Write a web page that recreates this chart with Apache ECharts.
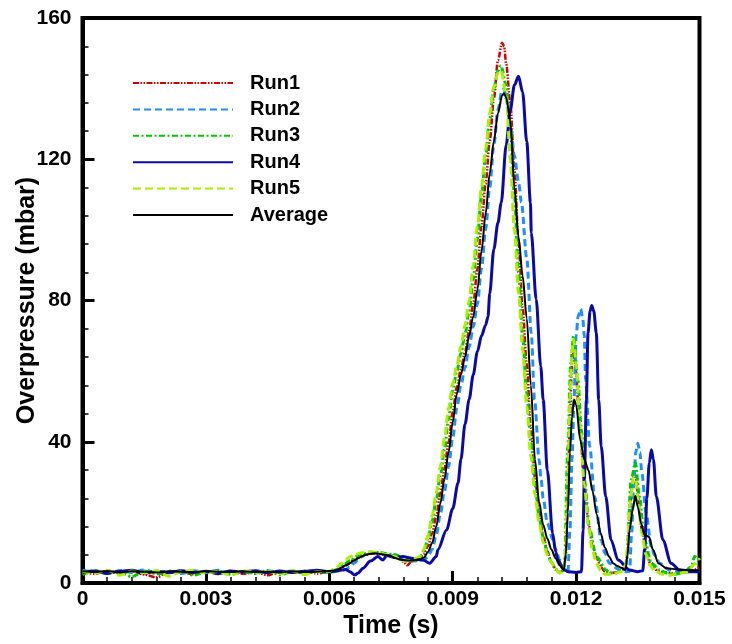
<!DOCTYPE html>
<html>
<head>
<meta charset="utf-8">
<script src="https://cdn.jsdelivr.net/npm/echarts@6/dist/echarts.min.js"></script>
<style>
html,body{margin:0;padding:0;background:#fff;}
#chart{width:732px;height:644px;}
</style>
</head>
<body>
<div id="chart"></div>
<script>
const seriesNames = ['Run1', 'Run2', 'Run3', 'Run4', 'Run5', 'Average'];
const xTicks = [0, 0.003, 0.006, 0.009, 0.012, 0.015];
const yTicks = [0, 40, 80, 120, 160];

const run1 = [[0,3.2],[0.0003,2.6],[0.0006,3.4],[0.0009,2.9],[0.0012,3.3],[0.0015,2.4],[0.0018,1.6],[0.0021,3.2],[0.0024,3.0],[0.0027,2.5],[0.003,3.3],[0.0033,2.8],[0.0036,3.4],[0.0039,2.6],[0.0042,3.1],[0.0045,2.2],[0.0048,3.3],[0.0051,2.9],[0.0054,3.4],[0.0057,2.7],[0.006,3.2],
[0.0062,3.6],[0.0064,5.0],[0.0066,6.6],[0.0068,7.8],[0.007,8.3],[0.0072,8.2],[0.0074,7.8],[0.0076,7.3],[0.0077,6.8],[0.0078,6.0],[0.0079,5.0],[0.008,6.2],[0.0081,6.6],[0.0082,7.2],
[0.0083,8.2],[0.0084,10.5],[0.0085,14],[0.0086,19],[0.0087,25.5],[0.0088,32.5],[0.0089,40],[0.009,48.5],[0.0091,55.5],[0.0092,60.5],[0.0093,65.5],[0.0094,71.5],[0.0095,79],[0.0096,89],[0.0097,101],[0.0098,113],[0.0099,125],[0.01,137],[0.0101,148],[0.0102,153],[0.01025,152],[0.0103,147],[0.0104,136],[0.0105,117],[0.0106,97],[0.0107,78],[0.0108,62],[0.0109,44],[0.011,30],[0.0111,20],[0.0112,13.5],[0.0113,9],[0.0114,6],[0.0115,4],[0.0116,3],[0.0117,3.6],[0.01175,8],[0.0118,25],[0.01185,47],[0.0119,62],[0.01195,66],[0.012,60],[0.01205,51],[0.0121,42],[0.0122,28],[0.0123,17],[0.0124,10.5],[0.0125,7],[0.0126,4.5],[0.0127,3.2],[0.0128,2.8],[0.013,3.0],[0.0131,3.4],[0.0132,4.5],[0.01325,8],[0.0133,18],[0.01335,27],[0.0134,31],[0.01345,30],[0.0135,25],[0.0136,15],[0.0137,9],[0.0138,5.5],[0.0139,4],[0.014,3.3],[0.0142,3.0],[0.0144,2.6],[0.0146,3.0],[0.0148,3.4],[0.015,4.5]];

const run2 = [[0,3.6],[0.0003,3.1],[0.0006,2.8],[0.0009,3.5],[0.0012,3.0],[0.0015,3.7],[0.0018,2.9],[0.0021,3.4],[0.0024,2.7],[0.0027,3.5],[0.003,3.0],[0.0033,3.6],[0.0036,2.9],[0.0039,3.3],[0.0042,2.8],[0.0045,3.5],[0.0048,3.0],[0.0051,3.4],[0.0054,2.9],[0.0057,3.3],[0.006,3.0],
[0.0062,3.4],[0.0064,3.8],[0.0065,4.5],[0.0066,5.6],[0.0067,6.5],[0.0068,7.5],[0.0069,8.4],[0.007,8.8],[0.0071,8.5],[0.0072,8.8],[0.0073,8.2],[0.0074,8.0],[0.0075,7.6],[0.0076,8.0],[0.0077,7.2],[0.0078,6.4],[0.0079,6.0],[0.008,6.2],[0.0081,6.3],[0.0082,6.5],
[0.0083,6.5],[0.0084,7.5],[0.0085,9.5],[0.0086,13.5],[0.0087,19.5],[0.0088,26],[0.0089,33],[0.009,41],[0.0091,49.5],[0.0092,56],[0.0093,61],[0.0094,67],[0.0095,72.5],[0.0096,79],[0.0097,89],[0.0098,100],[0.0099,112],[0.01,124],[0.0101,134],[0.0102,139.5],[0.01025,140],[0.0103,137],[0.0104,130],[0.0105,121],[0.0106,113.5],[0.01067,107.8],[0.0108,92],[0.01091,70.8],[0.01099,51.9],[0.0111,35],[0.01115,29.2],[0.0112,24],[0.0113,17],[0.01144,12.2],[0.0115,9.5],[0.0116,6.5],[0.01172,3.5],[0.0118,3.0],[0.01185,15],[0.0119,35],[0.01195,52],[0.012,70],[0.01205,75.5],[0.01211,77.6],[0.01216,75],[0.0122,70],[0.01223,57.6],[0.01233,38.7],[0.01245,24.5],[0.01261,12.2],[0.0127,8.5],[0.01281,5.6],[0.01306,3.7],[0.0132,3.2],[0.0133,3.3],[0.01335,14],[0.0134,28],[0.01345,37],[0.0135,39.6],[0.01355,37],[0.0136,31],[0.0137,19.8],[0.01383,10.3],[0.0139,8],[0.01403,5.6],[0.01427,3.7],[0.0145,3.2],[0.0148,3.5],[0.015,3.5]];

const run3 = [[0,2.4],[0.0003,3.5],[0.0006,2.9],[0.0009,3.2],[0.0012,1.8],[0.0015,3.4],[0.0018,2.6],[0.0021,3.1],[0.0024,3.5],[0.0027,2.2],[0.003,3.1],[0.0033,3.4],[0.0036,2.5],[0.0039,3.2],[0.0042,2.7],[0.0045,3.5],[0.0048,2.3],[0.0051,3.3],[0.0054,2.8],[0.0057,3.4],[0.006,3.0],
[0.0062,3.8],[0.00634,5.1],[0.0065,6.3],[0.0067,7.7],[0.00698,8.6],[0.0072,8.7],[0.0074,8.3],[0.00763,7.9],[0.0078,7.0],[0.00796,6.5],[0.00812,6.3],
[0.0082,7.2],[0.0083,9],[0.0084,12.5],[0.0085,17.5],[0.0086,23.5],[0.0087,30.5],[0.0088,38],[0.0089,46.5],[0.009,54.5],[0.0091,60],[0.0092,65],[0.0093,70.5],[0.0094,77],[0.0095,86],[0.0096,97.5],[0.0097,109.5],[0.0098,121],[0.0099,131.5],[0.01,140],[0.0101,145],[0.01017,146.5],[0.0103,141],[0.0104,128],[0.0105,110],[0.0106,88],[0.0107,70],[0.0108,54],[0.0109,40],[0.011,28],[0.0111,19],[0.0112,13],[0.0113,8.5],[0.0114,5.8],[0.0115,3.8],[0.0116,2.9],[0.01168,3.5],[0.01172,5.6],[0.0118,38.7],[0.01187,62.3],[0.01194,69.9],[0.01204,57.6],[0.01213,43.4],[0.0122,29.2],[0.01233,15],[0.01249,7.5],[0.01273,3.7],[0.01281,2.8],[0.013,3.0],[0.01315,3.8],[0.01322,5.6],[0.01334,29.2],[0.01344,34.1],[0.01354,24.5],[0.01366,12.2],[0.01383,5.6],[0.01403,3.7],[0.0142,2.8],[0.0144,2.4],[0.0146,3.0],[0.0148,4.5],[0.01488,7.5],[0.015,6.5]];

const run4 = [[0,3.0],[0.0003,3.4],[0.0006,2.7],[0.0009,3.3],[0.0012,3.6],[0.0015,2.8],[0.0018,3.3],[0.0021,2.9],[0.0024,3.5],[0.0027,3.0],[0.003,3.3],[0.0033,2.6],[0.0036,3.4],[0.0039,3.1],[0.0042,3.5],[0.0045,2.9],[0.0048,3.4],[0.0051,3.0],[0.0054,3.3],[0.0057,3.6],[0.006,3.2],
[0.0062,3.5],[0.0064,3.8],[0.0065,3.2],[0.00662,2.3],[0.0067,2.8],[0.00682,4.2],[0.007,6.2],[0.00718,7.5],[0.0073,6.5],[0.0074,7.8],[0.0076,7.2],[0.00779,7.5],[0.008,7.0],[0.00828,6.5],[0.00844,5.6],[0.0086,7.5],[0.00864,9.4],[0.00885,15],[0.009,21],[0.00913,28.3],[0.0092,35],[0.0093,45],[0.0094,52],[0.0095,59],[0.0096,65.5],[0.0097,70],[0.0098,73],[0.00986,75.5],[0.0099,82],[0.01,94.5],[0.0101,102],[0.01018,107.7],[0.0103,124],[0.0104,134],[0.0105,141],[0.0106,143.5],[0.0107,139],[0.0108,125],[0.01089,107.7],[0.01091,99.2],[0.01103,80.3],[0.01114,61.4],[0.0112,51.9],[0.0113,32],[0.01143,14],[0.0115,9],[0.01156,6.5],[0.01168,4.2],[0.0118,3.2],[0.012,3.0],[0.01213,3.2],[0.01217,15],[0.0122,29.2],[0.01225,51.9],[0.01229,70.8],[0.01234,77],[0.01238,78.6],[0.01243,77],[0.01249,70.9],[0.01255,51.9],[0.01261,38.7],[0.01272,24.5],[0.01285,12.2],[0.01302,6.5],[0.0133,3.7],[0.0135,3.2],[0.01362,3.5],[0.01367,10],[0.01372,24],[0.01378,34],[0.01383,37.7],[0.01388,35],[0.01395,24.5],[0.01411,12.2],[0.01431,5.6],[0.01451,3.7],[0.0147,3.2],[0.015,3.2]];

const run5 = [[0,3.3],[0.0003,2.8],[0.0006,3.6],[0.0009,2.2],[0.0012,3.4],[0.0015,2.9],[0.0018,3.5],[0.0021,1.9],[0.0024,3.2],[0.0027,3.6],[0.003,2.8],[0.0033,3.3],[0.0036,2.2],[0.0039,3.5],[0.0042,3.0],[0.0045,3.3],[0.0048,2.6],[0.0051,3.5],[0.0054,2.4],[0.0057,3.2],[0.006,3.3],
[0.0061,3.8],[0.0062,4.6],[0.0063,5.6],[0.0064,6.6],[0.0065,7.4],[0.0066,8.0],[0.0068,8.6],[0.007,8.8],[0.0072,8.6],[0.0074,8.0],[0.0076,7.4],[0.0077,6.8],[0.0078,6.2],[0.0079,6.2],[0.008,6.6],[0.0081,7.0],
[0.0082,7.4],[0.0083,9.5],[0.0084,13.5],[0.0085,19],[0.0086,25.5],[0.0087,33],[0.0088,41],[0.0089,49.5],[0.009,56.5],[0.0091,61.5],[0.0092,67],[0.0093,73],[0.0094,80],[0.0095,90],[0.0096,101],[0.0097,112],[0.0098,123],[0.0099,133],[0.01,140.5],[0.0101,144.5],[0.01018,145],[0.0103,138],[0.0104,120],[0.0105,100],[0.0106,82],[0.0107,66],[0.0108,50],[0.0109,36],[0.011,25],[0.0111,17],[0.0112,11.5],[0.0113,8],[0.0114,5.8],[0.0115,4],[0.0116,2.8],[0.0117,3.5],[0.01175,10],[0.0118,30],[0.01185,52],[0.0119,66],[0.01194,69],[0.012,62],[0.0121,44],[0.0122,28],[0.0123,16],[0.0124,9],[0.0125,5.5],[0.0126,3.5],[0.0127,2.5],[0.0129,2.5],[0.0131,3.2],[0.0132,5],[0.01325,10],[0.0133,22],[0.0134,30],[0.01345,29],[0.0135,24],[0.0136,14],[0.0137,8],[0.0138,5],[0.0139,3.5],[0.0141,2.5],[0.0143,2.2],[0.0145,2.8],[0.0147,3.2],[0.0149,5.5],[0.015,7]];

const average = [[0,3.3],[0.0003,3.1],[0.0006,3.4],[0.0009,3.0],[0.0012,3.3],[0.0015,3.2],[0.0018,3.0],[0.0021,3.3],[0.0024,3.2],[0.0027,3.1],[0.003,3.3],[0.0033,3.2],[0.0036,3.1],[0.0039,3.3],[0.0042,3.1],[0.0045,3.2],[0.0048,3.0],[0.0051,3.3],[0.0054,3.1],[0.0057,3.2],[0.006,3.4],
[0.0061,3.5],[0.0062,3.8],[0.0063,4.4],[0.0064,5.0],[0.0065,5.6],[0.0066,6.4],[0.0067,7.0],[0.0068,7.6],[0.0069,8.0],[0.007,8.3],[0.0071,8.4],[0.0072,8.3],[0.0073,8.1],[0.0074,7.9],[0.0075,7.6],[0.0076,7.1],[0.0077,6.7],[0.0078,6.5],[0.0079,6.4],[0.008,6.4],[0.0081,6.5],[0.0082,6.8],
[0.0083,7.2],[0.0084,8.8],[0.0085,11.3],[0.0086,16],[0.0087,22.5],[0.0088,29.5],[0.0089,37],[0.009,45.5],[0.0091,53.5],[0.0092,59],[0.0093,64],[0.0094,70],[0.0095,75.5],[0.0096,83],[0.0097,94],[0.0098,104.5],[0.0099,116],[0.01,125],[0.0101,133],[0.0102,138],[0.01025,138.7],[0.0103,137.5],[0.0104,131],[0.0105,112],[0.0106,98],[0.0107,87],[0.0108,75],[0.0109,56],[0.011,35],[0.0111,23],[0.0112,16.5],[0.0113,12.6],[0.0114,9.5],[0.0115,7],[0.0116,5],[0.0117,3.7],[0.01175,8],[0.0118,20],[0.01185,37],[0.0119,47],[0.01195,52],[0.012,50.5],[0.0121,40.6],[0.0122,34.9],[0.0123,32],[0.0124,26],[0.0125,19.5],[0.0126,14],[0.0127,10],[0.0128,7.5],[0.0129,5.6],[0.013,4.8],[0.0131,4.3],[0.0132,3.7],[0.01325,8],[0.0133,15],[0.01338,21],[0.01344,24.7],[0.0135,21.5],[0.01358,16.9],[0.01366,13.6],[0.01377,13.1],[0.01387,9.4],[0.014,5.6],[0.0142,4.2],[0.0145,3.8],[0.0147,3.7],[0.015,3.6]];

const seriesData = [run1, run2, run3, run4, run5, average];
const colors = ['#d40000', '#1e8fff', '#00c800', '#0a0aa8', '#aaee00', '#000000'];
const dashes = [[6,1.5,1.5,1.5,1.5,1.5], [7,4], [6,2.5,2,2.5], 'solid', [8,4], 'solid'];
const widths = [2.5, 3, 3, 3, 3, 2];

const FONT = '"Liberation Sans", Arial, Helvetica, sans-serif';
const chart = echarts.init(document.getElementById('chart'), null, {renderer: 'canvas'});

const series = seriesNames.map((name, i) => ({
  name: name,
  type: 'line',
  data: seriesData[i],
  symbol: 'none',
  showSymbol: false,
  smooth: 0.3,
  smoothMonotone: 'x',
  z: 2 + i,
  lineStyle: {color: colors[i], width: widths[i], type: dashes[i]},
  itemStyle: {color: colors[i]}
}));

chart.setOption({
  animation: false,
  backgroundColor: '#fff',
  grid: {left: 82.5, right: 32.5, top: 18, bottom: 61, show: true, borderColor: '#000', borderWidth: 4, backgroundColor: 'transparent'},
  legend: {
    orient: 'vertical', left: 127, top: 68,
    itemWidth: 100, itemHeight: 14, itemGap: 6.4,
    data: seriesNames,
    itemStyle: {opacity: 0},
    textStyle: {fontFamily: FONT, fontWeight: 'bold', fontSize: 20, color: '#000', padding: [0, 0, 0, 12]}
  },
  xAxis: {
    type: 'value', min: xTicks[0], max: xTicks[xTicks.length - 1], interval: 0.003,
    name: 'Time (s)', nameLocation: 'middle', nameGap: 31, nameMoveOverlap: false,
    nameTextStyle: {fontFamily: FONT, fontWeight: 'bold', fontSize: 25, color: '#000'},
    axisLine: {show: true, lineStyle: {color: '#000', width: 4}},
    axisTick: {show: true, inside: true, length: 12, lineStyle: {color: '#000', width: 3}},
    minorTick: {show: true, splitNumber: 5, length: 6, lineStyle: {color: '#000', width: 1.5}},
    splitLine: {show: false},
    axisLabel: {fontFamily: FONT, fontWeight: 'bold', fontSize: 21, color: '#000', margin: 6,
      formatter: v => (v === 0 ? '0' : v.toFixed(3))}
  },
  yAxis: {
    type: 'value', min: yTicks[0], max: yTicks[yTicks.length - 1], interval: 40,
    name: 'Overpressure (mbar)', nameLocation: 'middle', nameGap: 43, nameMoveOverlap: false,
    nameTextStyle: {fontFamily: FONT, fontWeight: 'bold', fontSize: 25, color: '#000'},
    axisLine: {show: true, lineStyle: {color: '#000', width: 4}},
    axisTick: {show: true, inside: true, length: 12, lineStyle: {color: '#000', width: 3}},
    minorTick: {show: true, splitNumber: 5, length: 6, lineStyle: {color: '#000', width: 1.5}},
    splitLine: {show: false},
    axisLabel: {fontFamily: FONT, fontWeight: 'bold', fontSize: 21, color: '#000', margin: 11}
  },
  series: series
});
</script>
</body>
</html>
